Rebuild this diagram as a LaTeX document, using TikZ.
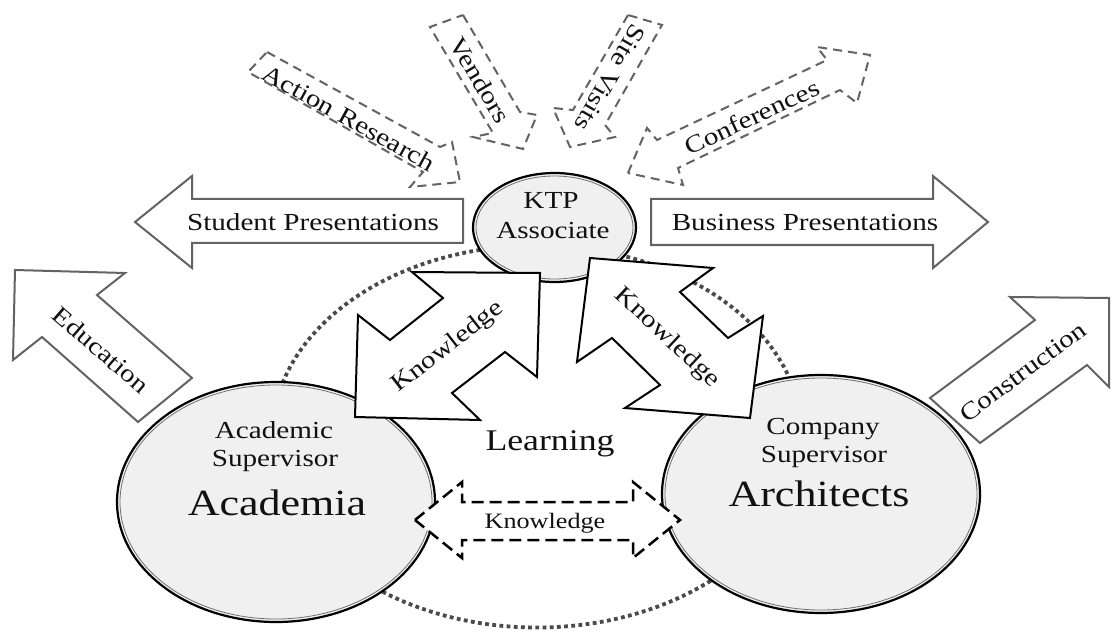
\documentclass[tikz,border=0pt]{standalone}
\usepackage{fontspec}
\usepackage{graphicx}
\setmainfont{Liberation Serif}
\usetikzlibrary{shapes.geometric}
\definecolor{arrowgray}{HTML}{636363}
\definecolor{fillgray}{HTML}{F0F0F0}
\definecolor{dotgray}{HTML}{4A4A4A}
\definecolor{txt}{HTML}{111111}
\definecolor{innergray}{HTML}{707070}
\newcommand{\hs}[1]{\scalebox{1.19}[1]{#1}}
\tikzset{
  grayarrow/.style={draw=arrowgray, line width=2pt, fill=white, line join=miter},
  dasharrow/.style={draw=arrowgray, line width=2pt, fill=white, dash pattern=on 9pt off 6pt},
  knowarrow/.style={draw=black, line width=2pt, fill=white, line join=miter},
  blackdash/.style={draw=black, line width=2.5pt, fill=white, dash pattern=on 12pt off 6pt},
  bubble/.style={ellipse, fill=fillgray, draw=black, line width=2.2pt, inner sep=0pt},
  bubblein/.style={ellipse, draw=innergray, line width=0.8pt, inner sep=0pt},
  lbl/.style={text=txt, font=\fontsize{24.5}{29}\selectfont, inner sep=0pt},
  bigl/.style={text=txt, font=\fontsize{37}{44}\selectfont, inner sep=0pt},
  midl/.style={text=txt, font=\fontsize{30}{36}\selectfont, inner sep=0pt},
  smalll/.style={text=txt, font=\fontsize{22}{26}\selectfont, inner sep=0pt},
}
\begin{document}
\begin{tikzpicture}[x=1pt,y=-1pt]
\clip (0,0) rectangle (1111,631);
\fill[white] (0,0) rectangle (1111,631);

% dotted learning ellipse
\draw[dotgray, line width=3.8pt, dash pattern=on 3.8pt off 3.4pt] (537,436.5) ellipse [x radius=265pt, y radius=191pt];

% main bubbles
\node[bubble, minimum width=163pt, minimum height=109pt] (ktp) at (554.5,227.5) {};
\node[bubblein, minimum width=157pt, minimum height=103pt] (ktpin) at (554.5,227.5) {};
\node[bubble, minimum width=318pt, minimum height=240pt] (acad) at (276,502) {};
\node[bubblein, minimum width=312pt, minimum height=234pt] (acadin) at (276,502) {};
\node[bubble, minimum width=318pt, minimum height=238pt] (comp) at (821,494) {};
\node[bubblein, minimum width=312pt, minimum height=232pt] (compin) at (821,494) {};

% knowledge double arrows
\draw[knowarrow] (540,273) -- (412,272) -- (443,298) -- (390,340) -- (358,315) -- (355,417) -- (480,420) -- (452,393) -- (505,352) -- (537,377) -- cycle;
\draw[knowarrow] (590,258) -- (713,268) -- (680,292) -- (728,338) -- (763,316) -- (750,418) -- (625,408) -- (660,385) -- (612,338) -- (577,362) -- cycle;

% dashed knowledge arrow between circles
\draw[blackdash] (415,520) -- (462,482) -- (462,502) -- (633,502) -- (633,482) -- (680,520) -- (633,558) -- (633,540) -- (462,540) -- (462,558) -- cycle;

% gray solid arrows
\draw[grayarrow] (463,199) -- (192,199) -- (192,176) -- (135,222) -- (192,268) -- (192,243) -- (463,243) -- cycle;
\draw[grayarrow] (651,199) -- (933,199) -- (933,176) -- (988,222) -- (933,268) -- (933,245) -- (651,245) -- cycle;
\draw[grayarrow] (192,378) -- (97,295) -- (125,273) -- (15,270) -- (13,360) -- (42,337) -- (138,422) -- cycle;
\draw[grayarrow] (930,398) -- (1035,320) -- (1010,297) -- (1109,298) -- (1109,387) -- (1087,365) -- (980,443) -- cycle;

% gray dashed arrows
\draw[dasharrow] (267,52) -- (440,147) -- (452,142) -- (460,182) -- (410,187) -- (423,172) -- (248,72) -- cycle;
\draw[dasharrow] (463,15) -- (520,112) -- (537,115) -- (523,149) -- (473,137) -- (493,133) -- (430,27) -- cycle;
\draw[dasharrow] (628,15) -- (573,110) -- (553,108) -- (570,147) -- (615,137) -- (605,125) -- (662,25) -- cycle;
\draw[dasharrow] (628,173) -- (647,128) -- (657,140) -- (827,60) -- (817,47) -- (870,55) -- (857,103) -- (840,90) -- (678,168) -- (683,185) -- cycle;

% texts
\node[lbl, anchor=base] (tstud) at (313,230.7) {\hs{Student Presentations}};
\node[lbl, anchor=base] (tbus) at (805,230.7) {\hs{Business Presentations}};
\node[lbl, anchor=base] (tktp) at (551,208.3) {\hs{KTP}};
\node[lbl, anchor=base] (tassoc) at (553,238.3) {\hs{Associate}};
\node[lbl, anchor=base] (tacadA) at (274,438.3) {\hs{Academic}};
\node[lbl, anchor=base] (tacadB) at (275,466.7) {\hs{Supervisor}};
\node[bigl, anchor=base] (tacadC) at (277,515) {\hs{Academia}};
\node[lbl, anchor=base] (tcompA) at (823,434) {\hs{Company}};
\node[lbl, anchor=base] (tcompB) at (824,462.3) {\hs{Supervisor}};
\node[bigl, anchor=base] (tcompC) at (819,506.7) {\hs{Architects}};
\node[midl, anchor=base] (tlearn) at (550,450) {\hs{Learning}};
\node[smalll, anchor=base] (tknowC) at (545,528.3) {\hs{Knowledge}};

\node[lbl, rotate=-29] (tact) at (349,118) {\hs{Action Research}};
\node[lbl, rotate=-59.5] (tven) at (480,80) {\hs{Vendors}};
\node[lbl, rotate=-120] (tsite) at (610,78) {\hs{Site Visits}};
\node[lbl, rotate=25] (tconf) at (752,117) {\hs{Conferences}};
\node[lbl, rotate=-41] (tedu) at (101,350) {\hs{Education}};
\node[lbl, rotate=36.5] (tcons) at (1023,372) {\hs{Construction}};
\node[lbl, rotate=38] (tknowA) at (448,347) {\hs{Knowledge}};
\node[lbl, rotate=-43] (tknowB) at (667,338) {\hs{Knowledge}};
\end{tikzpicture}
\end{document}
